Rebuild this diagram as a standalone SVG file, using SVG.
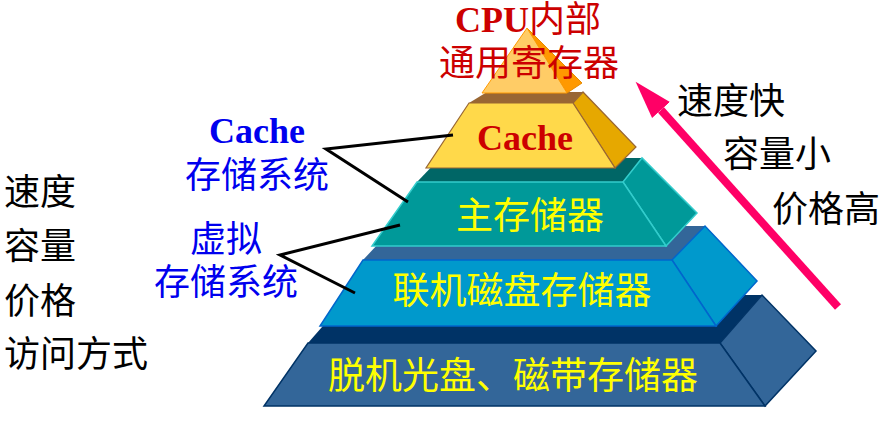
<svg xmlns="http://www.w3.org/2000/svg" width="887" height="426" viewBox="0 0 887 426">
<style>
.cjk{font-family:"Liberation Serif","Noto Sans CJK SC",serif;}
.lat{font-family:"Liberation Serif","Noto Sans CJK SC",serif;font-weight:bold;}
.blk{fill:#000;font-size:36px;}
.blue{fill:#0000EE;font-size:36px;}
.red{fill:#CC0000;font-size:36px;}
.yel{fill:#FFFF00;font-size:37px;}
.conn{stroke:#000;stroke-width:3;fill:none;}
</style>
<defs>
<marker id="ah" markerUnits="userSpaceOnUse" markerWidth="40" markerHeight="26" viewBox="0 -13 40 26" refX="0" refY="0" orient="auto">
<path d="M0,-12 L38,0 L0,12 z" fill="#FF0066"/>
</marker>
</defs>
<rect width="887" height="426" fill="#fff"/>

<g id="layer5">
<polygon points="308,343 720,343 762,295 350,295" fill="#003366"/>
<polygon points="720,343 762,295 816,351 765,406" fill="#336699" stroke="#003366" stroke-width="1.5"/>
<polygon points="264,406 765,406 720,343 308,343" fill="#336699" stroke="#003366" stroke-width="1.5"/>
<text class="cjk yel" x="513" y="389" text-anchor="middle">脱机光盘、磁带存储器</text>
</g>

<g id="layer4">
<polygon points="363,260 672,260 705,226 395,226" fill="#336699"/>
<polygon points="672,260 705,226 757,281 716,326" fill="#0099CC" stroke="#0066CC" stroke-width="1.5"/>
<polygon points="320,326 716,326 672,260 363,260" fill="#0099CC" stroke="#0066CC" stroke-width="1.5"/>
<text class="cjk yel" x="522" y="304" text-anchor="middle">联机磁盘存储器</text>
</g>

<g id="layer3">
<polygon points="417,182 623,182 642,158 440,158" fill="#006666"/>
<polygon points="623,182 642,158 697,213 666,246" fill="#009999" stroke="#33CCCC" stroke-width="1.5"/>
<polygon points="372,246 666,246 623,182 417,182" fill="#009999" stroke="#33CCCC" stroke-width="1.5"/>
<text class="cjk yel" x="530" y="229" text-anchor="middle">主存储器</text>
</g>

<g id="layer2">
<polygon points="469,103 573,103 583,92 487,92" fill="#996633"/>
<polygon points="573,103 583,92 636,147 615,168" fill="#E6A800" stroke="#996633" stroke-width="1.2"/>
<polygon points="426,168 615,168 573,103 469,103" fill="#FFD94A" stroke="#996633" stroke-width="1.2"/>
<text class="lat red" x="525" y="150" text-anchor="middle">Cache</text>
</g>

<g id="layer1">
<polygon points="527,28 567,93 582,83" fill="#FF9900" stroke="#E68A00" stroke-width="1"/>
<polygon points="527,28 482,93 567,93" fill="#FFCC66" stroke="#FF9900" stroke-width="1"/>
<text class="red" x="528" y="32" text-anchor="middle"><tspan class="lat">CPU</tspan><tspan class="cjk">内部</tspan></text>
<text class="cjk red" x="529" y="76" text-anchor="middle">通用寄存器</text>
</g>

<g id="left-labels">
<text class="cjk blk" x="4" y="205">速度</text>
<text class="cjk blk" x="4" y="259">容量</text>
<text class="cjk blk" x="4" y="314">价格</text>
<text class="cjk blk" x="4" y="367">访问方式</text>
</g>

<g id="cache-system">
<text class="lat blue" x="257" y="143" text-anchor="middle">Cache</text>
<text class="cjk blue" x="257" y="188" text-anchor="middle">存储系统</text>
</g>

<g id="virtual-system">
<text class="cjk blue" x="226" y="252" text-anchor="middle">虚拟</text>
<text class="cjk blue" x="226" y="295" text-anchor="middle">存储系统</text>
</g>

<g id="right-labels">
<text class="cjk blk" x="677" y="114">速度快</text>
<text class="cjk blk" x="723" y="167">容量小</text>
<text class="cjk blk" x="772" y="222">价格高</text>
</g>

<g id="connectors">
<polyline class="conn" points="453,135 326,149 408,202"/>
<polyline class="conn" points="400,225 280,255 355,293"/>
<line x1="838" y1="307" x2="661" y2="110" stroke="#FF0066" stroke-width="8" marker-end="url(#ah)"/>
</g>
</svg>
